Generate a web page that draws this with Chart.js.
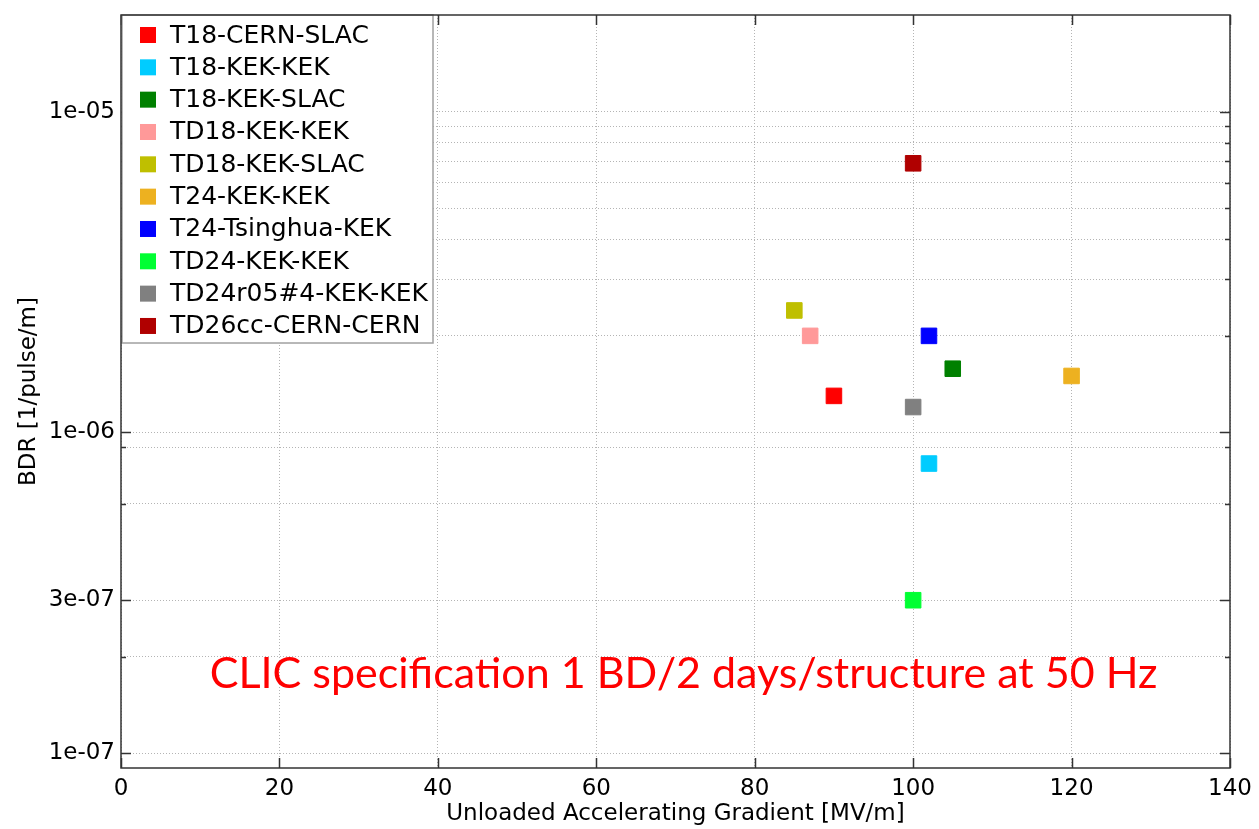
<!DOCTYPE html>
<html>
<head>
    <title>BDR vs gradient</title>
    <script src="https://cdn.jsdelivr.net/npm/chart.js"></script>
    <style>
        body { margin: 0; background: #ffffff; }
        #wrap { width: 1259px; height: 829px; position: relative; }
    </style>
</head>
<body>
    <div id="wrap"><canvas id="bdrChart"></canvas></div>
    <script>
        // values
        const structures = ['T18-CERN-SLAC', 'T18-KEK-KEK', 'T18-KEK-SLAC', 'TD18-KEK-KEK', 'TD18-KEK-SLAC',
            'T24-KEK-KEK', 'T24-Tsinghua-KEK', 'TD24-KEK-KEK', 'TD24r05#4-KEK-KEK', 'TD26cc-CERN-CERN'];
        const gradients = [90, 102, 105, 87, 85, 120, 102, 100, 100, 100];
        const bdrValues = [1.3e-6, 8e-7, 1.58e-6, 2e-6, 2.4e-6, 1.5e-6, 2e-6, 3e-7, 1.2e-6, 6.9e-6];
        const markerColors = ['#ff0000', '#00ccff', '#008000', '#ff9999', '#bfbf00',
            '#edb120', '#0000ff', '#00ff33', '#808080', '#b00000'];

        const xTickValues = [0, 20, 40, 60, 80, 100, 120, 140];
        const yGridValues = [1e-7, 2e-7, 3e-7, 6e-7, 9e-7,
            1e-6, 2e-6, 3e-6, 4e-6, 5e-6, 6e-6, 7e-6, 8e-6, 9e-6, 1e-5];
        const yLabelValues = [1e-7, 3e-7, 1e-6, 1e-5];
        const yLabelTexts = ['1e-07', '3e-07', '1e-06', '1e-05'];

        const noteText = 'CLIC specification 1 BD/2 days/structure at 50 Hz';
        const notePos = [11.2, 1.6e-7];

        const axisFont = 'DejaVu Sans';

        function labelIndex(v) {
            return yLabelValues.findIndex(l => Math.abs(l - v) / l < 1e-6);
        }

        const datasets = structures.map((name, i) => ({
            label: name,
            data: [{ x: gradients[i], y: bdrValues[i] }],
            backgroundColor: markerColors[i],
            borderColor: markerColors[i],
            borderWidth: 1,
            pointStyle: 'rect',
            pointRadius: 11,
            pointHoverRadius: 11
        }));

        // box, inside ticks, legend and the red note
        const framePlugin = {
            id: 'frame',
            afterDatasetsDraw(chart) {
                const ctx = chart.ctx;
                const a = chart.chartArea;
                const xs = chart.scales.x;
                const ys = chart.scales.y;
                ctx.save();

                ctx.fillStyle = '#ff0000';
                ctx.font = '43px Lato';
                ctx.textBaseline = 'alphabetic';
                ctx.textAlign = 'left';
                ctx.fillText(noteText, xs.getPixelForValue(notePos[0]), ys.getPixelForValue(notePos[1]));

                ctx.strokeStyle = '#333333';
                ctx.lineWidth = 1.5;
                ctx.beginPath();
                xs.ticks.forEach(t => {
                    const px = Math.round(xs.getPixelForValue(t.value)) + 0.5;
                    ctx.moveTo(px, a.bottom); ctx.lineTo(px, a.bottom - 10);
                    ctx.moveTo(px, a.top); ctx.lineTo(px, a.top + 10);
                });
                ys.ticks.forEach(t => {
                    const len = labelIndex(t.value) >= 0 ? 10 : 5;
                    const py = Math.round(ys.getPixelForValue(t.value)) + 0.5;
                    ctx.moveTo(a.left, py); ctx.lineTo(a.left + len, py);
                    ctx.moveTo(a.right, py); ctx.lineTo(a.right - len, py);
                });
                ctx.stroke();

                // legend
                const lx = a.left + 1, ly = a.top, lw = 311, lh = 328;
                ctx.fillStyle = '#ffffff';
                ctx.fillRect(lx, ly, lw, lh);
                ctx.strokeStyle = '#a0a0a0';
                ctx.lineWidth = 1.5;
                ctx.strokeRect(lx, ly, lw, lh);
                ctx.font = '25px ' + axisFont;
                ctx.textBaseline = 'middle';
                chart.data.datasets.forEach((ds, i) => {
                    const cy = ly + 20 + i * 32.33;
                    ctx.fillStyle = ds.backgroundColor;
                    ctx.fillRect(lx + 18, cy - 8, 16, 16);
                    ctx.fillStyle = '#000000';
                    ctx.fillText(ds.label, lx + 48, cy + 1);
                });

                ctx.strokeStyle = '#333333';
                ctx.lineWidth = 1.5;
                ctx.strokeRect(a.left, a.top, a.right - a.left, a.bottom - a.top);
                ctx.restore();
            }
        };

        const ctx = document.getElementById('bdrChart').getContext('2d');
        const bdrChart = new Chart(ctx, {
            type: 'scatter',
            data: { datasets: datasets },
            options: {
                responsive: true,
                maintainAspectRatio: false,
                animation: false,
                events: [],
                layout: { padding: { top: 15, right: 29, left: 0, bottom: 0 } },
                plugins: {
                    legend: { display: false },
                    tooltip: { enabled: false }
                },
                scales: {
                    x: {
                        type: 'linear',
                        min: 0,
                        max: 140,
                        afterBuildTicks: s => { s.ticks = xTickValues.map(v => ({ value: v })); },
                        afterFit: s => { s.height = 61; s.paddingLeft = 0; s.paddingRight = 0; },
                        ticks: {
                            padding: 7,
                            color: '#000000',
                            font: { family: axisFont, size: 23 },
                            maxRotation: 0
                        },
                        grid: { color: '#b4b4b4', lineWidth: 1, drawTicks: false },
                        border: { display: false, dash: [1, 2] },
                        title: {
                            display: true,
                            text: 'Unloaded Accelerating Gradient [MV/m]',
                            color: '#000000',
                            font: { family: axisFont, size: 23 },
                            padding: { top: 0, bottom: 1 }
                        }
                    },
                    y: {
                        type: 'logarithmic',
                        min: 9e-8,
                        max: 2e-5,
                        afterBuildTicks: s => { s.ticks = yGridValues.map(v => ({ value: v })); },
                        afterFit: s => { s.width = 121; s.paddingTop = 0; s.paddingBottom = 0; },
                        ticks: {
                            autoSkip: false,
                            padding: 6,
                            color: '#000000',
                            font: { family: axisFont, size: 23 },
                            callback: v => {
                                const k = labelIndex(v);
                                return k >= 0 ? yLabelTexts[k] : '';
                            }
                        },
                        grid: { color: '#b4b4b4', lineWidth: 1, drawTicks: false },
                        border: { display: false, dash: [1, 2] },
                        title: {
                            display: true,
                            text: 'BDR [1/pulse/m]',
                            color: '#000000',
                            font: { family: axisFont, size: 23 },
                            padding: { top: 15, bottom: 0 }
                        }
                    }
                }
            },
            plugins: [framePlugin]
        });
    </script>
</body>
</html>
